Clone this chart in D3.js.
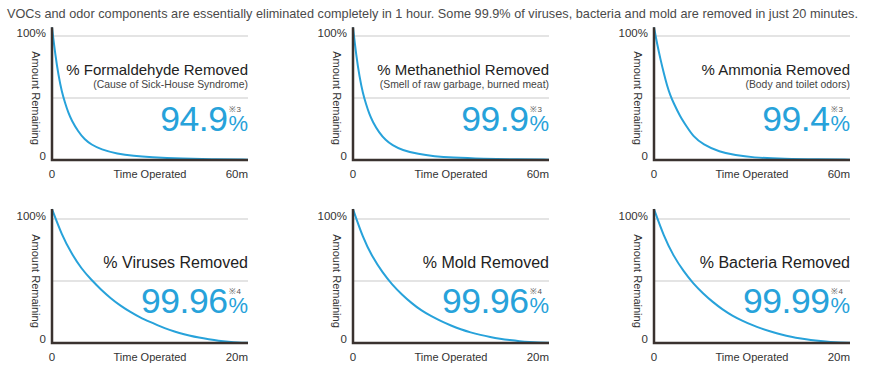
<!DOCTYPE html>
<html lang="en">
<head>
<meta charset="UTF-8">
<title>Removal charts</title>
<style>
  body { margin: 0; background: #fff; }
  svg { display: block; font-family: "Liberation Sans", Arial, sans-serif; }
</style>
</head>
<body>
<svg></svg>
<script src="https://d3js.org/d3.v7.min.js"></script>
<script>
var headline = "VOCs and odor components are essentially eliminated completely in 1 hour. Some 99.9% of viruses, bacteria and mold are removed in just 20 minutes.";

// panel texts
var titles = ["% Formaldehyde Removed", "% Methanethiol Removed", "% Ammonia Removed",
              "% Viruses Removed", "% Mold Removed", "% Bacteria Removed"];
var subtitles = ["(Cause of Sick-House Syndrome)", "(Smell of raw garbage, burned meat)", "(Body and toilet odors)", "", "", ""];
var results = ["94.9", "99.9", "99.4", "99.96", "99.96", "99.99"];
var notes = ["※3", "※3", "※3", "※4", "※4", "※4"];
var durations = [60, 60, 60, 20, 20, 20];
var endLabels = ["60m", "60m", "60m", "20m", "20m", "20m"];

// time points (minutes)
var times60 = [0, 1, 2, 3, 4, 5, 6, 8, 10, 12, 15, 20, 25, 30, 40, 50, 60];
var times20 = [0, 1, 2, 3, 4, 5, 6, 7, 8, 9, 10, 11, 12, 13, 14, 15, 16, 17, 18, 19, 20];

// amount remaining (%)
var formaldehyde = [107, 85, 68, 55, 46, 38, 32, 23, 16.5, 12.5, 8.5, 5, 3.2, 2.2, 1.1, 0.6, 0.3];
var methanethiol = [107, 84, 67, 54, 45, 37, 31, 22, 16, 12, 8, 4.7, 3, 2, 1, 0.5, 0.3];
var ammonia      = [107, 93, 81, 70, 60, 52, 46, 35, 27, 19, 12.5, 6.5, 3.8, 2, 0.9, 0.5, 0.3];
var viruses  = [108, 87, 72, 60, 51, 43, 36, 30, 25, 20.5, 17, 13.5, 10.5, 8, 6, 4.3, 3, 1.8, 1, 0.4, 0.2];
var mold     = [108, 85, 69, 57, 47, 39, 32, 26, 21.5, 17.5, 14, 11, 8.5, 6.5, 4.8, 3.4, 2.3, 1.4, 0.8, 0.4, 0.2];
var bacteria = [108, 86, 70, 58, 48, 40, 33, 27, 22, 18, 14.5, 11.5, 9, 6.8, 5, 3.6, 2.4, 1.5, 0.8, 0.4, 0.2];

var series = [formaldehyde, methanethiol, ammonia, viruses, mold, bacteria];
var timeSets = [times60, times60, times60, times20, times20, times20];

var blue = "#27a2da";
var W = 872, H = 374;
var pw = 196, ph = 124;
var colX = [52, 353, 654];
var rowY = [36, 219];

var svg = d3.select("svg").attr("width", W).attr("height", H);

svg.append("text")
  .attr("x", 7).attr("y", 18)
  .attr("font-size", "12.7px")
  .attr("textLength", 851).attr("lengthAdjust", "spacing")
  .attr("fill", "#4a4a4a")
  .text(headline);

var y = d3.scaleLinear().domain([0, 100]).range([ph, 0]);

titles.forEach(function(t, i) {
  var g = svg.append("g")
    .attr("transform", "translate(" + colX[i % 3] + "," + rowY[Math.floor(i / 3)] + ")");

  var x = d3.scaleLinear().domain([0, durations[i]]).range([0, pw]);

  // gridlines
  g.selectAll(".grid")
    .data([100, 50])
    .enter().append("line")
    .attr("x1", 0).attr("x2", pw)
    .attr("y1", function(d) { return y(d); })
    .attr("y2", function(d) { return y(d); })
    .attr("stroke", "#c9c9c9").attr("stroke-width", 1);

  // curve
  var pts = timeSets[i].map(function(tm, j) { return [tm, series[i][j]]; });
  var line = d3.line()
    .x(function(d) { return x(d[0]); })
    .y(function(d) { return y(d[1]); })
    .curve(d3.curveBasis);
  g.append("path")
    .attr("d", line(pts))
    .attr("fill", "none")
    .attr("stroke", blue)
    .attr("stroke-width", 2);

  // axes
  g.append("path")
    .attr("d", "M0," + y(series[i][0]) + "V" + ph + "H" + pw)
    .attr("fill", "none")
    .attr("stroke", "#3a322f")
    .attr("stroke-width", 2.5);

  // tick labels
  g.append("text").attr("x", -6).attr("y", y(100) + 1)
    .attr("text-anchor", "end").attr("font-size", "11.5px").attr("fill", "#333").text("100%");
  g.append("text").attr("x", -6).attr("y", y(0))
    .attr("text-anchor", "end").attr("font-size", "11.5px").attr("fill", "#333").text("0");
  g.append("text").attr("x", x(0)).attr("y", ph + 18)
    .attr("text-anchor", "middle").attr("font-size", "11.5px").attr("fill", "#333").text("0");
  g.append("text").attr("x", pw / 2).attr("y", ph + 18)
    .attr("text-anchor", "middle").attr("font-size", "11px").attr("fill", "#333").text("Time Operated");
  g.append("text").attr("x", pw).attr("y", ph + 18)
    .attr("text-anchor", "end").attr("font-size", "11.5px").attr("fill", "#333").text(endLabels[i]);

  g.append("text")
    .attr("transform", "translate(-20," + y(50) + ") rotate(90)")
    .attr("text-anchor", "middle").attr("font-size", "11px").attr("fill", "#333")
    .text("Amount Remaining");

  // titles
  var hasSub = subtitles[i] !== "";
  g.append("text").attr("x", pw).attr("y", hasSub ? 39 : 49)
    .attr("text-anchor", "end").attr("font-size", hasSub ? "15px" : "16px").attr("fill", "#222")
    .text(t);
  if (hasSub) {
    g.append("text").attr("x", pw).attr("y", 52)
      .attr("text-anchor", "end").attr("font-size", "10.4px").attr("fill", "#444")
      .text(subtitles[i]);
  }

  // big result: number, note and % in one text element
  var ny = hasSub ? 95 : 94;
  var tmp = g.append("text").attr("font-size", "22px").text("%");
  var pwid = tmp.node().getComputedTextLength();
  tmp.remove();

  var big = g.append("text").attr("fill", blue);
  big.append("tspan")
    .attr("x", pw - pwid - 1).attr("y", ny)
    .attr("text-anchor", "end").attr("font-size", "35.5px").attr("letter-spacing", "-0.5px")
    .text(results[i]);
  big.append("tspan")
    .attr("x", pw - pwid + 1).attr("y", ny - 19)
    .attr("text-anchor", "start").attr("font-size", "8px").attr("fill", "#555")
    .text(notes[i]);
  big.append("tspan")
    .attr("x", pw).attr("y", ny)
    .attr("text-anchor", "end").attr("font-size", "22px")
    .text("%");
});
</script>
</body>
</html>
